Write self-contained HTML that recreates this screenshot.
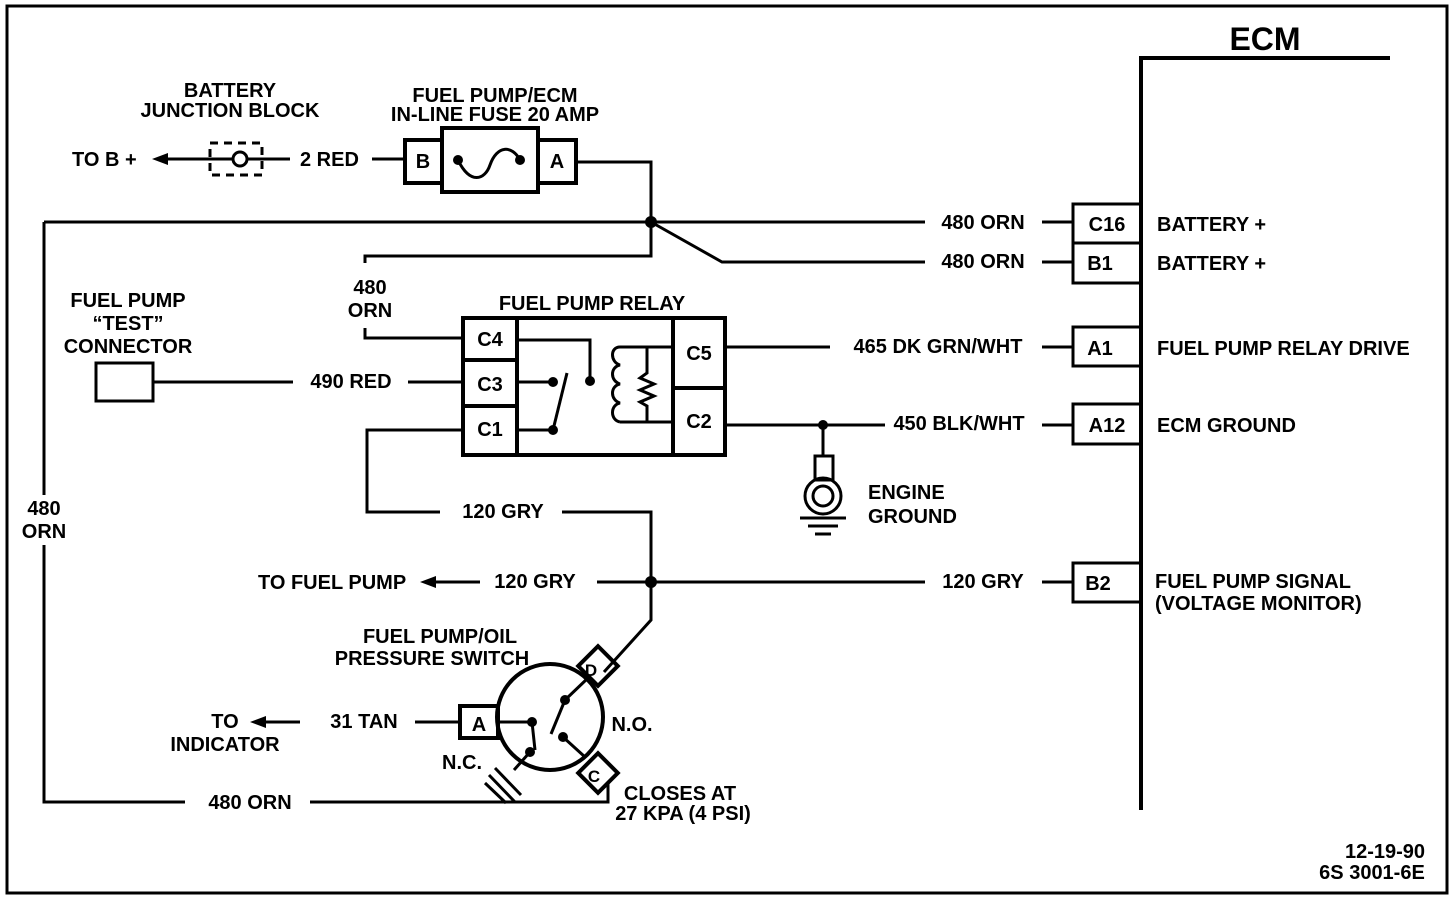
<!DOCTYPE html>
<html><head><meta charset="utf-8"><style>
html,body{margin:0;padding:0;background:#fff;}
svg{display:block;}
text{font-family:"Liberation Sans",sans-serif;font-weight:bold;font-size:20px;fill:#000;}
</style></head><body>
<svg width="1456" height="900" viewBox="0 0 1456 900" xmlns="http://www.w3.org/2000/svg">
<g fill="none" stroke="#000" stroke-width="3">
<rect x="7" y="6" width="1440" height="887"/>
<polyline points="1390,58 1141,58 1141,810" stroke-width="4"/>
<rect x="1073" y="204" width="68" height="39"/>
<rect x="1073" y="243" width="68" height="40"/>
<rect x="1073" y="327" width="68" height="39"/>
<rect x="1073" y="404" width="68" height="40"/>
<rect x="1073" y="563" width="68" height="39"/>
<line x1="165" y1="159" x2="232" y2="159"/>
<line x1="248" y1="159" x2="290" y2="159"/>
<circle cx="240" cy="159" r="7"/>
<rect x="210" y="143" width="52" height="32" stroke-dasharray="8,6"/>
<line x1="372" y1="159" x2="405" y2="159"/>
<rect x="405" y="140" width="37" height="43" stroke-width="4"/>
<rect x="442" y="128" width="96" height="64" stroke-width="4"/>
<rect x="538" y="140" width="38" height="43" stroke-width="4"/>
<path d="M458,160 C470,185 485,180 490,165 C497,145 512,145 520,160"/>
<polyline points="576,162 651,162 651,256 365,256 365,263"/>
<line x1="44" y1="222" x2="925" y2="222"/>
<line x1="1042" y1="222" x2="1073" y2="222"/>
<polyline points="651,222 722,262 925,262"/>
<line x1="1042" y1="262" x2="1073" y2="262"/>
<polyline points="365,328 365,338 463,338"/>
<line x1="44" y1="222" x2="44" y2="495"/>
<polyline points="44,545 44,802 185,802"/>
<polyline points="310,802 608,802 608,782"/>
<rect x="96" y="363" width="57" height="38"/>
<line x1="153" y1="382" x2="293" y2="382"/>
<line x1="408" y1="382" x2="463" y2="382"/>
<rect x="463" y="318" width="262" height="137" stroke-width="4"/>
<line x1="517" y1="318" x2="517" y2="455" stroke-width="4"/>
<line x1="463" y1="360" x2="517" y2="360" stroke-width="4"/>
<line x1="463" y1="406" x2="517" y2="406" stroke-width="4"/>
<line x1="673" y1="318" x2="673" y2="455" stroke-width="4"/>
<line x1="673" y1="388" x2="725" y2="388" stroke-width="4"/>
<polyline points="517,340 590,340 590,380"/>
<line x1="517" y1="382" x2="553" y2="382"/>
<line x1="517" y1="430" x2="553" y2="430"/>
<line x1="553" y1="430" x2="567" y2="373"/>
<polyline points="673,347 620,347"/>
<path d="M620,347 c-10,0 -10,15 0,18 c-10,2 -10,16 0,19 c-10,2 -10,16 0,19 c-10,2 -10,17 0,19"/>
<polyline points="620,422 673,422"/>
<polyline points="647,347 647,373 640,378 654,384 640,390 654,396 640,402 647,406 647,422"/>
<line x1="725" y1="347" x2="830" y2="347"/>
<line x1="1042" y1="347" x2="1073" y2="347"/>
<line x1="725" y1="425" x2="885" y2="425"/>
<line x1="1042" y1="425" x2="1073" y2="425"/>
<line x1="823" y1="425" x2="823" y2="456"/>
<rect x="815" y="456" width="18" height="24"/>
<circle cx="823" cy="496" r="18"/>
<circle cx="823" cy="496" r="10"/>
<line x1="800" y1="518" x2="846" y2="518"/>
<line x1="808" y1="526" x2="838" y2="526"/>
<line x1="815" y1="534" x2="831" y2="534"/>
<polyline points="463,430 367,430 367,512 440,512"/>
<polyline points="562,512 651,512 651,620 604,672"/>
<line x1="430" y1="582" x2="480" y2="582"/>
<line x1="597" y1="582" x2="925" y2="582"/>
<line x1="1042" y1="582" x2="1073" y2="582"/>
<circle cx="550" cy="717" r="53" stroke-width="4"/>
<rect x="460" y="706" width="38" height="32" stroke-width="4"/>
<rect x="584" y="652" width="28" height="28" transform="rotate(45 598 666)" stroke-width="4"/>
<rect x="584" y="759" width="28" height="28" transform="rotate(-45 598 773)" stroke-width="4"/>
<line x1="415" y1="722" x2="460" y2="722"/>
<line x1="300" y1="722" x2="262" y2="722"/>
<line x1="498" y1="722" x2="532" y2="722"/>
<line x1="532" y1="722" x2="535" y2="750"/>
<line x1="530" y1="752" x2="514" y2="770"/>
<line x1="495" y1="768" x2="521" y2="795"/>
<line x1="489" y1="775" x2="515" y2="802"/>
<line x1="485" y1="783" x2="506" y2="803"/>
<line x1="565" y1="700" x2="588" y2="678"/>
<line x1="565" y1="700" x2="551" y2="734"/>
<line x1="563" y1="737" x2="585" y2="757"/>
</g>
<g fill="#000">
<circle cx="651" cy="222" r="6"/>
<circle cx="458" cy="160" r="5"/><circle cx="520" cy="160" r="5"/>
<circle cx="590" cy="381" r="5"/><circle cx="553" cy="382" r="5"/><circle cx="553" cy="430" r="5"/>
<circle cx="823" cy="425" r="5"/>
<circle cx="651" cy="582" r="6"/>
<circle cx="532" cy="722" r="5"/><circle cx="530" cy="752" r="5"/>
<circle cx="565" cy="700" r="5"/><circle cx="563" cy="737" r="5"/>
<polygon points="152,159 168,153 168,165"/>
<polygon points="420,582 436,576 436,588"/>
<polygon points="250,722 266,716 266,728"/>
</g>
<text x="1265" y="50" text-anchor="middle" style="font-size:32px">ECM</text>
<text x="230" y="97" text-anchor="middle">BATTERY</text>
<text x="230" y="117" text-anchor="middle">JUNCTION BLOCK</text>
<text x="495" y="102" text-anchor="middle">FUEL PUMP/ECM</text>
<text x="495" y="121" text-anchor="middle">IN-LINE FUSE 20 AMP</text>
<text x="72" y="166">TO B +</text>
<text x="300" y="166">2 RED</text>
<text x="423" y="168" text-anchor="middle">B</text>
<text x="557" y="168" text-anchor="middle">A</text>
<text x="983" y="229" text-anchor="middle">480 ORN</text>
<text x="983" y="268" text-anchor="middle">480 ORN</text>
<text x="1107" y="231" text-anchor="middle">C16</text>
<text x="1100" y="270" text-anchor="middle">B1</text>
<text x="1157" y="231">BATTERY  +</text>
<text x="1157" y="270">BATTERY  +</text>
<text x="370" y="294" text-anchor="middle">480</text>
<text x="370" y="317" text-anchor="middle">ORN</text>
<text x="592" y="310" text-anchor="middle">FUEL PUMP RELAY</text>
<text x="128" y="307" text-anchor="middle">FUEL PUMP</text>
<text x="128" y="330" text-anchor="middle">“TEST”</text>
<text x="128" y="353" text-anchor="middle">CONNECTOR</text>
<text x="351" y="388" text-anchor="middle">490 RED</text>
<text x="490" y="346" text-anchor="middle">C4</text>
<text x="490" y="391" text-anchor="middle">C3</text>
<text x="490" y="436" text-anchor="middle">C1</text>
<text x="699" y="360" text-anchor="middle">C5</text>
<text x="699" y="428" text-anchor="middle">C2</text>
<text x="938" y="353" text-anchor="middle">465 DK GRN/WHT</text>
<text x="959" y="430" text-anchor="middle">450 BLK/WHT</text>
<text x="1100" y="355" text-anchor="middle">A1</text>
<text x="1107" y="432" text-anchor="middle">A12</text>
<text x="1157" y="355">FUEL PUMP RELAY DRIVE</text>
<text x="1157" y="432">ECM GROUND</text>
<text x="868" y="499">ENGINE</text>
<text x="868" y="523">GROUND</text>
<text x="503" y="518" text-anchor="middle">120 GRY</text>
<text x="44" y="515" text-anchor="middle">480</text>
<text x="44" y="538" text-anchor="middle">ORN</text>
<text x="258" y="589">TO FUEL PUMP</text>
<text x="535" y="588" text-anchor="middle">120 GRY</text>
<text x="983" y="588" text-anchor="middle">120 GRY</text>
<text x="1098" y="590" text-anchor="middle">B2</text>
<text x="1155" y="588">FUEL PUMP SIGNAL</text>
<text x="1155" y="610">(VOLTAGE MONITOR)</text>
<text x="440" y="643" text-anchor="middle">FUEL PUMP/OIL</text>
<text x="432" y="665" text-anchor="middle">PRESSURE SWITCH</text>
<text x="479" y="731" text-anchor="middle">A</text>
<text x="591" y="676" text-anchor="middle" style="font-size:17px">D</text>
<text x="594" y="782" text-anchor="middle" style="font-size:17px">C</text>
<text x="364" y="728" text-anchor="middle">31 TAN</text>
<text x="225" y="728" text-anchor="middle">TO</text>
<text x="225" y="751" text-anchor="middle">INDICATOR</text>
<text x="632" y="731" text-anchor="middle">N.O.</text>
<text x="462" y="769" text-anchor="middle">N.C.</text>
<text x="680" y="800" text-anchor="middle">CLOSES AT</text>
<text x="683" y="820" text-anchor="middle">27 KPA (4 PSI)</text>
<text x="250" y="809" text-anchor="middle">480 ORN</text>
<text x="1385" y="858" text-anchor="middle">12-19-90</text>
<text x="1372" y="879" text-anchor="middle">6S 3001-6E</text>
</svg>
</body></html>
